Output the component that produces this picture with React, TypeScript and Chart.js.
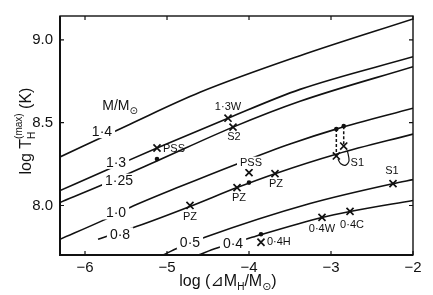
import React, { useEffect, useRef } from "react";
import { Chart, registerables } from "chart.js";

Chart.register(...registerables);

const FONT = "'Liberation Sans', 'DejaVu Sans', sans-serif";
const INK = "#111";

// Axis ticks
const xTicks = [-6, -5, -4, -3, -2];
const xTickLabels = ["−6", "−5", "−4", "−3", "−2"];
const yTicks = [8.0, 8.5, 9.0];
const yTickLabels = ["8.0", "8.5", "9.0"];

// Curves of constant M/M⊙ : log(ΔM_H/M⊙) vs log T_H(max)
const massLabels = ["1·4", "1·3", "1·25", "1·0", "0·8", "0·5", "0·4"];
const c14X = [-6.305, -5.451, -4.598, -3.378, -2.0];
const c14Y = [8.293, 8.491, 8.683, 8.904, 9.126];
const c13X = [-6.305, -5.756, -5.122, -4.256, -3.378, -2.0];
const c13Y = [8.09, 8.21, 8.347, 8.527, 8.701, 8.898];
const c125X = [-6.305, -5.78, -5.122, -4.195, -3.378, -2.0];
const c125Y = [8.018, 8.126, 8.269, 8.473, 8.629, 8.838];
const c10X = [-6.305, -5.78, -5.451, -4.841, -4.146, -3.5, -2.939, -2.0];
const c10Y = [7.796, 7.91, 7.988, 8.114, 8.251, 8.371, 8.461, 8.587];
const c08X = [-5.841, -5.366, -4.72, -4.146, -3.683, -2.927, -2.0];
const c08Y = [7.796, 7.874, 7.994, 8.108, 8.192, 8.311, 8.431];
const c05X = [-5.049, -4.866, -4.537, -3.256, -2.244, -2.0];
const c05Y = [7.701, 7.743, 7.808, 8.012, 8.132, 8.156];
const c04X = [-4.622, -4.39, -3.963, -3.11, -2.768, -2.0];
const c04Y = [7.701, 7.743, 7.808, 7.928, 7.964, 8.03];

// Model points (crosses)
const crossNames = ["PSS", "1·3W", "S2", "PSS", "PZ", "PZ", "PZ", "S1", "", "S1", "0·4W", "0·4C", "0·4H"];
const crossX = [-5.122, -4.256, -4.195, -4.0, -4.72, -4.146, -3.683, -2.935, -2.845, -2.244, -3.11, -2.768, -3.854];
const crossY = [8.347, 8.527, 8.473, 8.198, 8.0, 8.108, 8.192, 8.299, 8.359, 8.132, 7.928, 7.964, 7.778];

// Filled dots
const dotX = [-5.122, -4.0, -2.935, -2.845, -3.854];
const dotY = [8.281, 8.138, 8.461, 8.479, 7.826];

// Dashed drops (dot -> cross)
const dropAX = [-2.935, -2.935];
const dropAY = [8.461, 8.299];
const dropBX = [-2.845, -2.845];
const dropBY = [8.479, 8.359];

// Bracket joining the two S1 crosses
const bracketX = [-2.915, -2.88, -2.82, -2.78, -2.8];
const bracketY = [8.28, 8.252, 8.244, 8.27, 8.33];

// Layout of text (data coordinates of label centres, px offsets)
const curveLabelX = [-5.793, -5.622, -5.585, -5.622, -5.573, -4.72, -4.195];
const curveLabelY = [8.449, 8.263, 8.15, 7.958, 7.826, 7.778, 7.772];
const crossLabelDX = [6, 0, 1, 2, 0, 2, 1, 21, 0, -1, 0, 2, 6];
const crossLabelDY = [1, -11, 10, -10, 11, 10, 10, 7, 0, -13, 12, 14, 0];
const crossLabelAlign = ["left", "center", "center", "center", "center", "center", "center", "center", "center", "center", "center", "center", "left"];

type Seg = { t: string; size: number; dy: number; stack?: boolean };

function layoutRich(ctx: CanvasRenderingContext2D, segs: Seg[]) {
  let x = 0;
  let prevStart = 0;
  let prevW = 0;
  const items: (Seg & { x: number })[] = [];
  for (const s of segs) {
    ctx.font = `${s.size}px ${FONT}`;
    const w = ctx.measureText(s.t).width;
    if (s.stack) {
      items.push({ ...s, x: prevStart });
      const nw = Math.max(prevW, w);
      x = prevStart + nw;
      prevW = nw;
    } else {
      items.push({ ...s, x });
      prevStart = x;
      prevW = w;
      x += w;
    }
  }
  return { items, width: x };
}

function drawRich(ctx: CanvasRenderingContext2D, segs: Seg[], cx: number, baseline: number) {
  const { items, width } = layoutRich(ctx, segs);
  const x0 = cx - width / 2;
  ctx.textAlign = "left";
  ctx.textBaseline = "alphabetic";
  for (const it of items) {
    ctx.font = `${it.size}px ${FONT}`;
    ctx.fillText(it.t, x0 + it.x, baseline + it.dy);
  }
}

const xy = (xs: number[], ys: number[]) => xs.map((x, i) => ({ x, y: ys[i] }));

const decorPlugin = {
  id: "decor",
  afterDatasetsDraw(chart: any) {
    const ctx: CanvasRenderingContext2D = chart.ctx;
    const xs = chart.scales.x;
    const ys = chart.scales.y;
    ctx.save();
    ctx.fillStyle = INK;
    // curve labels with white knock-out
    ctx.font = `14px ${FONT}`;
    ctx.textAlign = "center";
    ctx.textBaseline = "middle";
    massLabels.forEach((t, i) => {
      const px = xs.getPixelForValue(curveLabelX[i]);
      const py = ys.getPixelForValue(curveLabelY[i]);
      const w = ctx.measureText(t).width;
      ctx.fillStyle = "#fff";
      ctx.fillRect(px - w / 2 - 3, py - 7, w + 6, 14);
      ctx.fillStyle = INK;
      ctx.fillText(t, px, py + 1);
    });
    // cross labels
    ctx.font = `11px ${FONT}`;
    crossNames.forEach((t, i) => {
      if (!t) return;
      const px = xs.getPixelForValue(crossX[i]) + crossLabelDX[i];
      const py = ys.getPixelForValue(crossY[i]) + crossLabelDY[i];
      ctx.textAlign = crossLabelAlign[i] as CanvasTextAlign;
      if (i === 3) {
        const w = ctx.measureText(t).width;
        ctx.fillStyle = "#fff";
        ctx.fillRect(px - w / 2 - 3, py - 6, w + 6, 12);
        ctx.fillStyle = INK;
      }
      ctx.fillText(t, px, py);
    });
    // M/M⊙ heading
    drawRich(
      ctx,
      [
        { t: "M/M", size: 14, dy: 0 },
        { t: "⊙", size: 10, dy: 4 },
      ],
      xs.getPixelForValue(-5.573),
      ys.getPixelForValue(8.605) + 5
    );
    ctx.restore();
  },
  afterDraw(chart: any) {
    const ctx: CanvasRenderingContext2D = chart.ctx;
    const { left, right, top, bottom } = chart.chartArea;
    const xs = chart.scales.x;
    const ys = chart.scales.y;
    ctx.save();
    ctx.strokeStyle = INK;
    ctx.lineWidth = 1.4;
    ctx.strokeRect(left, top, right - left, bottom - top);
    ctx.lineWidth = 2;
    ctx.beginPath();
    ctx.moveTo(left, top);
    ctx.lineTo(left, bottom);
    ctx.lineTo(right, bottom);
    ctx.stroke();
    ctx.lineWidth = 1.2;
    ctx.beginPath();
    xTicks.forEach((v) => {
      const px = xs.getPixelForValue(v);
      ctx.moveTo(px, bottom);
      ctx.lineTo(px, bottom - 4);
      ctx.moveTo(px, top);
      ctx.lineTo(px, top + 4);
    });
    yTicks.forEach((v) => {
      const py = ys.getPixelForValue(v);
      ctx.moveTo(left, py);
      ctx.lineTo(left + 4, py);
      ctx.moveTo(right, py);
      ctx.lineTo(right - 4, py);
    });
    ctx.stroke();

    ctx.fillStyle = INK;
    // x title
    drawRich(
      ctx,
      [
        { t: "log (⊿M", size: 16, dy: 0 },
        { t: "H", size: 10, dy: 4 },
        { t: "/M", size: 16, dy: 0 },
        { t: "⊙", size: 11, dy: 4 },
        { t: ")", size: 16, dy: 0 },
      ],
      228,
      286
    );
    // y title (rotated)
    ctx.translate(31, 131);
    ctx.rotate(-Math.PI / 2);
    drawRich(
      ctx,
      [
        { t: "log T", size: 16, dy: 0 },
        { t: "H", size: 10, dy: 4 },
        { t: "(max)", size: 10, dy: -9, stack: true },
        { t: " (K)", size: 16, dy: 0 },
      ],
      0,
      0
    );
    ctx.restore();
  },
};

export default function App() {
  const ref = useRef<HTMLCanvasElement | null>(null);
  useEffect(() => {
    if (!ref.current) return;
    const curves = [
      [c14X, c14Y],
      [c13X, c13Y],
      [c125X, c125Y],
      [c10X, c10Y],
      [c08X, c08Y],
      [c05X, c05Y],
      [c04X, c04Y],
    ];
    const datasets: any[] = curves.map(([xs, ys]) => ({
      data: xy(xs, ys),
      showLine: true,
      borderColor: INK,
      borderWidth: 1.6,
      pointRadius: 0,
      cubicInterpolationMode: "monotone",
    }));
    datasets.push({
      data: xy(dropAX, dropAY),
      showLine: true,
      borderColor: INK,
      borderWidth: 1.5,
      borderDash: [3, 2],
      pointRadius: 0,
    });
    datasets.push({
      data: xy(dropBX, dropBY),
      showLine: true,
      borderColor: INK,
      borderWidth: 1.5,
      borderDash: [3, 2],
      pointRadius: 0,
    });
    datasets.push({
      data: xy(bracketX, bracketY),
      showLine: true,
      borderColor: INK,
      borderWidth: 1.2,
      tension: 0.3,
      pointRadius: 0,
    });
    datasets.push({
      data: xy(crossX, crossY),
      showLine: false,
      pointStyle: "crossRot",
      pointRadius: 5,
      borderColor: INK,
      pointBorderWidth: 1.7,
    });
    datasets.push({
      data: xy(dotX, dotY),
      showLine: false,
      pointStyle: "circle",
      pointRadius: 2.3,
      backgroundColor: INK,
      borderColor: INK,
      pointBorderWidth: 0,
    });

    const chart = new Chart(ref.current, {
      type: "scatter",
      data: { datasets },
      options: {
        animation: false,
        responsive: false,
        events: [],
        layout: { padding: { left: 0, right: 20, top: 14, bottom: 0 } },
        plugins: { legend: { display: false }, tooltip: { enabled: false } },
        scales: {
          x: {
            type: "linear",
            min: -6.305,
            max: -2,
            grid: { display: false, drawTicks: false },
            border: { display: false },
            afterBuildTicks: (s: any) => {
              s.ticks = xTicks.map((v) => ({ value: v }));
            },
            afterFit: (s: any) => {
              s.height = 40;
            },
            ticks: {
              padding: 4,
              color: INK,
              font: { family: FONT, size: 15 },
              maxRotation: 0,
              callback: (v: any) => {
                const i = xTicks.indexOf(Number(v));
                return i >= 0 ? xTickLabels[i] : "";
              },
            },
          },
          y: {
            type: "linear",
            min: 7.701,
            max: 9.144,
            grid: { display: false, drawTicks: false },
            border: { display: false },
            afterBuildTicks: (s: any) => {
              s.ticks = yTicks.map((v) => ({ value: v }));
            },
            afterFit: (s: any) => {
              s.width = 60;
            },
            ticks: {
              padding: 7,
              color: INK,
              font: { family: FONT, size: 15 },
              callback: (v: any) => {
                const i = yTicks.indexOf(Number(v));
                return i >= 0 ? yTickLabels[i] : "";
              },
            },
          },
        },
      },
      plugins: [decorPlugin],
    });
    return () => chart.destroy();
  }, []);

  return (
    <div style={{ position: "fixed", left: 0, top: 0, width: 433, height: 295, background: "#fff" }}>
      <canvas ref={ref} width={433} height={295} style={{ display: "block" }} />
    </div>
  );
}
